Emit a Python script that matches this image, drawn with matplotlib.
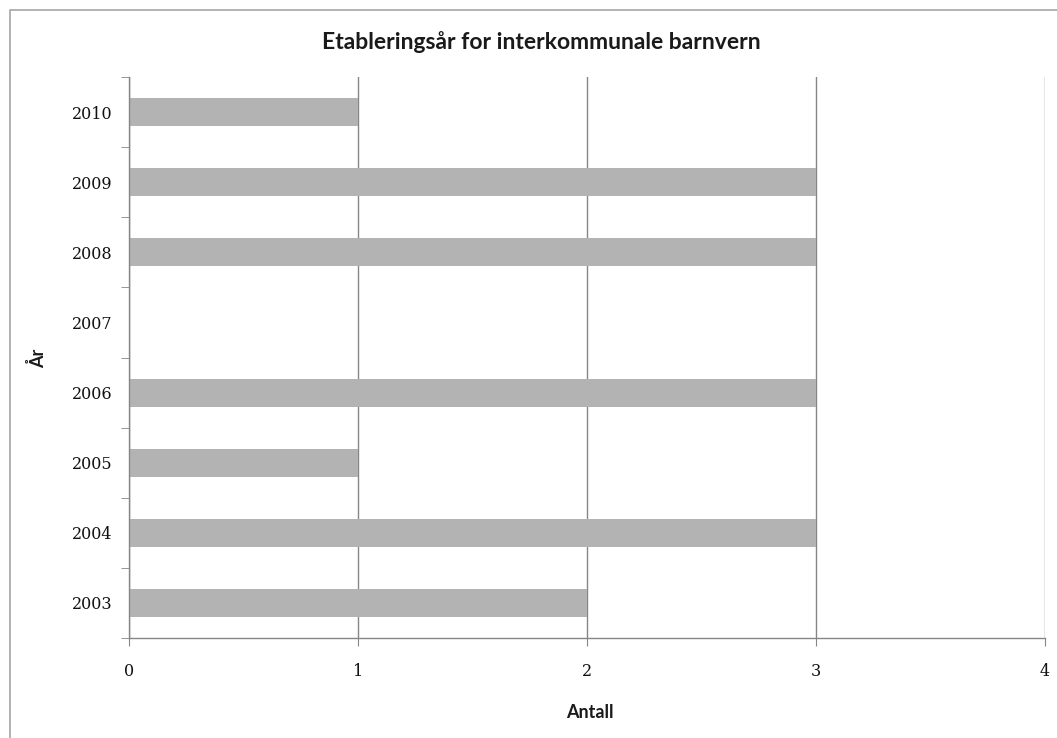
import matplotlib
matplotlib.use("Agg")
import matplotlib.pyplot as plt
from matplotlib.patches import Rectangle
import numpy as np

years = ["2003", "2004", "2005", "2006", "2007", "2008", "2009", "2010"]
counts = [2, 3, 1, 3, 0, 3, 3, 1]
x_ticks = [0, 1, 2, 3, 4]

title = "Etableringsår for interkommunale barnvern"
x_label = "Antall"
y_label = "År"

W, H = 1057, 738
fig = plt.figure(figsize=(W / 100, H / 100), dpi=100)
fig.patch.set_facecolor("white")

# chart-area frame (runs off the right and bottom edges)
fig.patches.append(Rectangle((10 / W, -0.2), 1.2, (H - 10) / H + 0.2, transform=fig.transFigure,
                             fill=False, edgecolor="#a6a6a6", linewidth=1.2))

ax = fig.add_axes([129 / W, 1 - 638 / H, (1045 - 129) / W, (638 - 77) / H])
pos = np.arange(len(years))
ax.barh(pos, counts, height=0.4, color="#b3b3b3", zorder=2)

ax.set_xlim(0, 4)
ax.set_ylim(-0.5, len(years) - 0.5)
ax.set_xticks(x_ticks)
ax.set_xticklabels([str(t) for t in x_ticks])
ax.set_yticks(pos)
ax.set_yticklabels(years)
ax.set_yticks(np.arange(-0.5, len(years)), minor=True)

grid_c = "#868686"
ax.grid(axis="x", color=grid_c, linewidth=1, zorder=1)
for s in ["top", "right"]:
    ax.spines[s].set_visible(False)
for s in ["left", "bottom"]:
    ax.spines[s].set_color(grid_c)
    ax.spines[s].set_linewidth(1)

ax.tick_params(axis="y", which="major", length=0, pad=12)
ax.tick_params(axis="y", which="minor", length=6, color=grid_c, direction="out")
ax.tick_params(axis="x", which="major", length=6, color=grid_c, direction="out", pad=12)

for lab in ax.get_xticklabels() + ax.get_yticklabels():
    lab.set_fontfamily("DejaVu Serif")
    lab.set_fontsize(11.5)
    lab.set_color("#111111")

fig.text(541 / W, 1 - 42 / H, title, ha="center", va="center",
         fontfamily="Lato", fontweight="bold", fontsize=16.5, color="#1a1a1a")
fig.text(590 / W, 1 - 712 / H, x_label, ha="center", va="center",
         fontfamily="Lato", fontweight="bold", fontsize=13, color="#1a1a1a")
fig.text(38 / W, 1 - 358 / H, y_label, ha="center", va="center", rotation=90,
         fontfamily="Lato", fontweight="bold", fontsize=13, color="#1a1a1a")

fig.savefig("out.png", dpi=100)
